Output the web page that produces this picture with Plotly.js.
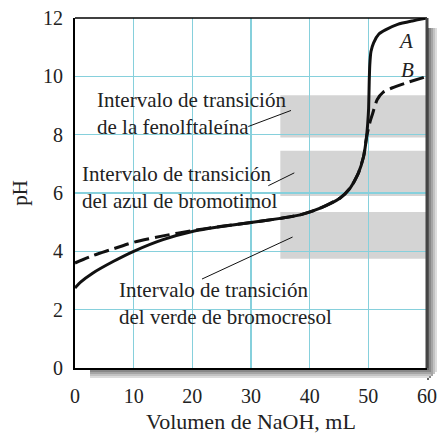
<!DOCTYPE html>
<html><head><meta charset="utf-8">
<script src="https://cdn.plot.ly/plotly-3.0.1.min.js"></script>
<style>body{margin:0;background:#fff}</style>
</head><body>
<div id="chart" style="width:437px;height:434px"></div>
<script>
// Curve A (solid)
const volA = [0, 1, 3, 6.5, 10, 15, 20, 25, 30, 35, 38.4, 41.8, 45.2, 46.9, 48.3, 49.2, 49.65, 49.9, 50.05, 50.15, 50.25, 50.45, 50.9, 51.8, 53, 55, 57.5, 60];
const phA  = [2.74, 2.95, 3.25, 3.65, 4.0, 4.4, 4.68, 4.85, 4.99, 5.13, 5.25, 5.48, 5.83, 6.17, 6.68, 7.26, 7.85, 8.4, 8.9, 9.8, 10.4, 10.85, 11.15, 11.45, 11.6, 11.78, 11.9, 12.0];
// Curve B (dashed)
const volB = [0, 3, 6, 10, 15, 20, 25, 30, 35, 38.4, 41.8, 45.2, 46.9, 48.3, 49.2, 49.65, 49.95, 50.3, 50.7, 51.5, 52.5, 54, 56.5, 60];
const phB  = [3.6, 3.85, 4.05, 4.31, 4.53, 4.71, 4.86, 4.99, 5.13, 5.25, 5.48, 5.83, 6.17, 6.68, 7.26, 7.85, 8.15, 8.45, 8.7, 9.2, 9.45, 9.6, 9.78, 10.0];
// Indicator transition intervals
const bandNames = ["de la fenolftaleína", "del azul de bromotimol", "del verde de bromocresol"];
const bandLow  = [7.9, 5.9, 3.75];
const bandHigh = [9.35, 7.45, 5.35];
const bandStart = 35, bandEnd = 60;
const xTicks = [0, 10, 20, 30, 40, 50, 60];
const yTicks = [0, 2, 4, 6, 8, 10, 12];

const FONT = "Liberation Serif, Times New Roman, serif";
const shapes = [];
bandLow.forEach((lo, i) => {
  shapes.push({type:'rect', xref:'x', yref:'y', x0:bandStart, x1:bandEnd, y0:lo, y1:bandHigh[i],
    fillcolor:'#d4d4d4', line:{width:0}, layer:'below'});
});
// shadow (right and bottom)
const W = 352, H = 350;
const shades = ['#666','#888','#a5a5a5','#c2c2c2','#dcdcdc'];
shades.forEach((c, k) => {
  shapes.push({type:'rect', xref:'paper', yref:'paper', x0:1 + (2*k)/W, x1:1 + (2*k+2)/W,
    y0:-(12 - 2*k)/H, y1:1 - 10/H, fillcolor:c, line:{width:0}, layer:'below'});
  shapes.push({type:'rect', xref:'paper', yref:'paper', x0:15/W, x1:1 + (10-2*k)/W,
    y0:-(2*k+2)/H, y1:-(2*k)/H, fillcolor:c, line:{width:0}, layer:'below'});
});
// frame
shapes.push({type:'line', xref:'paper', yref:'paper', x0:0, x1:1, y0:1, y1:1, line:{color:'#000', width:1.5}});
shapes.push({type:'line', xref:'paper', yref:'paper', x0:1, x1:1, y0:0, y1:1, line:{color:'#444', width:3}});
// leader lines
const leaders = [[29.54, 8.28, 36.82, 8.83], [32.95, 6.25, 37.38, 6.69], [21.65, 3.05, 37.09, 4.49]];
leaders.forEach(l => shapes.push({type:'line', xref:'x', yref:'y', x0:l[0], y0:l[1], x1:l[2], y1:l[3], line:{color:'#111', width:1}}));

const labelPos = [[3.4, 8.72], [0.85, 6.2], [7.1, 2.22]];
const annotations = bandNames.map((n, i) => ({
  x: labelPos[i][0], y: labelPos[i][1], xref:'x', yref:'y', xanchor:'left', yanchor:'middle', align:'left',
  text: 'Intervalo de transición<br>' + n, showarrow:false, font:{family:FONT, size:21, color:'#222'}
}));
annotations.push({x:56.3, y:11.2, xref:'x', yref:'y', text:'<i>A</i>', showarrow:false, font:{family:FONT, size:21, color:'#222'}});
annotations.push({x:56.6, y:10.23, xref:'x', yref:'y', text:'<i>B</i>', showarrow:false, font:{family:FONT, size:21, color:'#222'}});

const traces = [
  {x: volB, y: phB, mode:'lines', line:{color:'#111', width:3, dash:'15px,6px', shape:'spline', smoothing:0.6}, hoverinfo:'skip'},
  {x: volA, y: phA, mode:'lines', line:{color:'#111', width:3, shape:'spline', smoothing:0.6}, hoverinfo:'skip'}
];

const layout = {
  width:437, height:434, margin:{l:75, r:10, t:18, b:66},
  paper_bgcolor:'#fff', plot_bgcolor:'#fff', showlegend:false,
  font:{family:FONT, size:20, color:'#222'},
  xaxis:{range:[0,60], tickvals:xTicks, ticktext:xTicks.map(String), showgrid:true, gridcolor:'#86d0dc', gridwidth:1.5,
    zeroline:false, showline:true, linecolor:'#000', linewidth:2, ticks:'outside', ticklen:9, tickcolor:'rgba(0,0,0,0)',
    title:{text:'Volumen de NaOH, mL', font:{family:FONT, size:22, color:'#222'}, standoff:11}},
  yaxis:{range:[0,12], tickvals:yTicks, ticktext:yTicks.map(String), showgrid:true, gridcolor:'#86d0dc', gridwidth:1.5,
    zeroline:false, showline:true, linecolor:'#000', linewidth:2, ticks:'outside', ticklen:6, tickcolor:'rgba(0,0,0,0)',
    title:{text:'pH', font:{family:FONT, size:21, color:'#222'}, standoff:10}},
  shapes: shapes, annotations: annotations
};
Plotly.newPlot('chart', traces, layout, {displayModeBar:false, staticPlot:true});
</script>
</body></html>
